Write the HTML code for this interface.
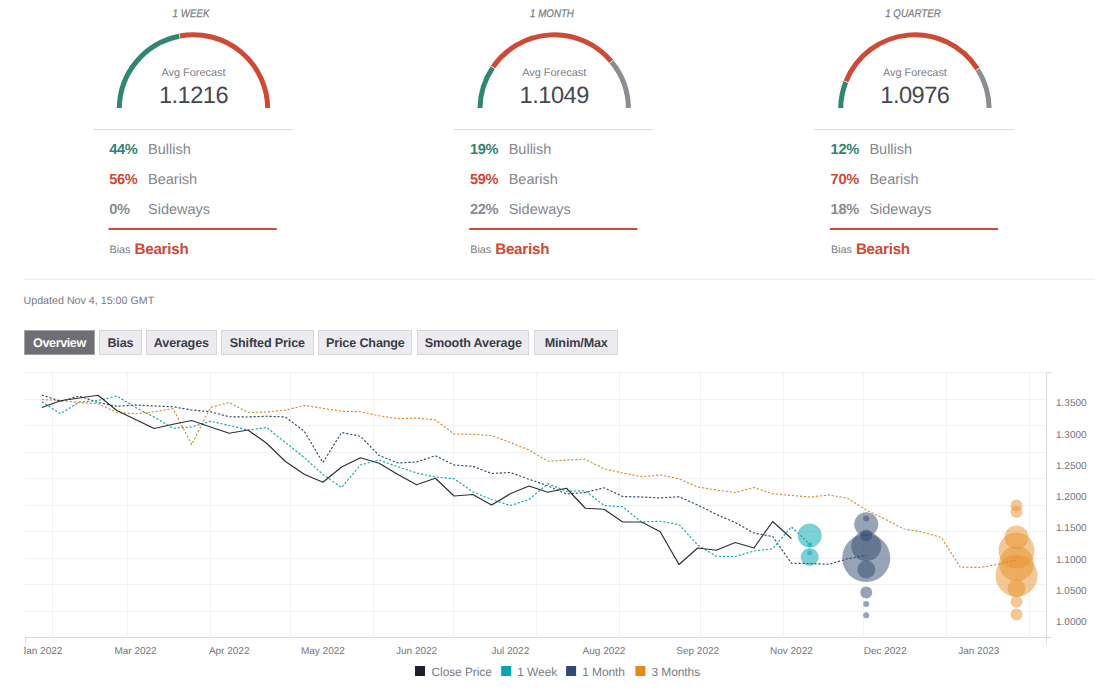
<!DOCTYPE html>
<html><head><meta charset="utf-8"><title>Forecast Poll</title>
<style>
html,body{margin:0;padding:0;background:#fff;}
body{width:1100px;height:688px;position:relative;overflow:hidden;font-family:"Liberation Sans",sans-serif;text-rendering:geometricPrecision;}
.t{position:absolute;white-space:nowrap;line-height:1;}
.c{transform:translateX(-50%);}
.title.c{transform:translateX(-50%) scaleX(0.885);}
.title{font-size:11px;font-style:italic;color:#7b7d86;top:8.9px;-webkit-text-stroke:0.25px #7b7d86;}
.avg{font-size:10.9px;color:#7b7d86;top:68px;}
.num{font-size:23.6px;letter-spacing:-0.5px;color:#454754;top:85.2px;}
.pct{font-size:14.6px;font-weight:bold;letter-spacing:-0.3px;}
.lab{font-size:14.5px;color:#85878f;}
.g{color:#338573}.r{color:#cf4a35}.s{color:#8c8d92}
.bias{font-size:10.8px;color:#7b7d86;top:245px;}
.biasv{font-size:15.2px;letter-spacing:-0.25px;font-weight:bold;color:#cf4a35;top:241.7px;}
.upd{font-size:10.7px;color:#787a82;left:23.5px;top:295.8px;}
.tab{position:absolute;top:330px;height:25px;box-sizing:border-box;border:1px solid #d6d6dc;background:#ececf0;color:#3a3c49;font-size:12.6px;letter-spacing:-0.15px;font-weight:bold;text-align:center;line-height:24.2px;white-space:nowrap;}
.tab.on{background:#6e6e74;border-color:#a2a2a8;color:#fff;letter-spacing:-0.4px;}
.yl{font-size:10px;color:#73757d;left:1056px;}
.xl{font-size:10px;color:#73757d;top:647.3px;}
.lg{font-size:12px;color:#7b7d86;top:666px;letter-spacing:-0.1px;}
</style></head><body>

<svg width="1100" height="688" viewBox="0 0 1100 688" style="position:absolute;left:0;top:0">
<defs><clipPath id="gc"><rect x="0" y="0" width="1100" height="108"/></clipPath></defs>
<path d="M119.30,109.00 A74.2,74.2 0 0 1 179.28,36.18" fill="none" stroke="#338573" stroke-width="5" clip-path="url(#gc)"/>
<path d="M179.91,36.05 A74.2,74.2 0 0 1 267.70,109.00" fill="none" stroke="#cf4a35" stroke-width="5" clip-path="url(#gc)"/>
<path d="M480.00,109.00 A74.2,74.2 0 0 1 492.65,67.56" fill="none" stroke="#338573" stroke-width="5" clip-path="url(#gc)"/>
<path d="M493.01,67.03 A74.2,74.2 0 0 1 611.17,61.45" fill="none" stroke="#cf4a35" stroke-width="5" clip-path="url(#gc)"/>
<path d="M611.58,61.95 A74.2,74.2 0 0 1 628.40,109.00" fill="none" stroke="#8c8d92" stroke-width="5" clip-path="url(#gc)"/>
<path d="M840.70,109.00 A74.2,74.2 0 0 1 845.79,81.99" fill="none" stroke="#338573" stroke-width="5" clip-path="url(#gc)"/>
<path d="M846.03,81.38 A74.2,74.2 0 0 1 977.38,68.97" fill="none" stroke="#cf4a35" stroke-width="5" clip-path="url(#gc)"/>
<path d="M977.72,69.52 A74.2,74.2 0 0 1 989.10,109.00" fill="none" stroke="#8c8d92" stroke-width="5" clip-path="url(#gc)"/>
<rect x="93.0" y="129" width="200" height="1" fill="#dcdcdc"/>
<rect x="108.5" y="228" width="168.2" height="2" fill="#cf4a35"/>
<rect x="453.7" y="129" width="200" height="1" fill="#dcdcdc"/>
<rect x="469.2" y="228" width="168.2" height="2" fill="#cf4a35"/>
<rect x="814.4" y="129" width="200" height="1" fill="#dcdcdc"/>
<rect x="829.9" y="228" width="168.2" height="2" fill="#cf4a35"/>
<rect x="24" y="278.7" width="1071" height="1" fill="#e6e6e6"/>
<rect x="25" y="372" width="1021" height="1" fill="#f1f1f6"/>
<rect x="25" y="399" width="1021" height="1" fill="#f1f1f6"/>
<rect x="25" y="425" width="1021" height="1" fill="#f1f1f6"/>
<rect x="25" y="452" width="1021" height="1" fill="#f1f1f6"/>
<rect x="25" y="478" width="1021" height="1" fill="#f1f1f6"/>
<rect x="25" y="505" width="1021" height="1" fill="#f1f1f6"/>
<rect x="25" y="531" width="1021" height="1" fill="#f1f1f6"/>
<rect x="25" y="558" width="1021" height="1" fill="#f1f1f6"/>
<rect x="25" y="584" width="1021" height="1" fill="#f1f1f6"/>
<rect x="25" y="611" width="1021" height="1" fill="#f1f1f6"/>
<rect x="52" y="372" width="1" height="265" fill="#f1f1f6"/>
<rect x="127" y="372" width="1" height="265" fill="#f1f1f6"/>
<rect x="210" y="372" width="1" height="265" fill="#f1f1f6"/>
<rect x="290" y="372" width="1" height="265" fill="#f1f1f6"/>
<rect x="373" y="372" width="1" height="265" fill="#f1f1f6"/>
<rect x="453" y="372" width="1" height="265" fill="#f1f1f6"/>
<rect x="536" y="372" width="1" height="265" fill="#f1f1f6"/>
<rect x="619" y="372" width="1" height="265" fill="#f1f1f6"/>
<rect x="700" y="372" width="1" height="265" fill="#f1f1f6"/>
<rect x="783" y="372" width="1" height="265" fill="#f1f1f6"/>
<rect x="863" y="372" width="1" height="265" fill="#f1f1f6"/>
<rect x="946" y="372" width="1" height="265" fill="#f1f1f6"/>
<rect x="1029" y="372" width="1" height="265" fill="#f1f1f6"/>
<rect x="25" y="637" width="1027.5" height="1" fill="#dbdce0"/>
<rect x="1046" y="372" width="1" height="271.5" fill="#dbdce0"/>
<rect x="1046" y="372" width="6.5" height="1" fill="#dbdce0"/>
<rect x="25" y="637" width="1" height="6.5" fill="#dbdce0"/>
<circle cx="809.7" cy="535.4" r="12" fill="#06a8b0" fill-opacity="0.53"/>
<circle cx="809.7" cy="557" r="9" fill="#06a8b0" fill-opacity="0.53"/>
<circle cx="809.7" cy="544.8" r="2.5" fill="#06a8b0" fill-opacity="0.53"/>
<circle cx="809.7" cy="552.8" r="2.5" fill="#06a8b0" fill-opacity="0.53"/>
<circle cx="866.25" cy="524.25" r="12" fill="#304a6e" fill-opacity="0.5"/>
<circle cx="866.25" cy="518.5" r="3" fill="#304a6e" fill-opacity="0.5"/>
<circle cx="866.25" cy="535.5" r="6" fill="#304a6e" fill-opacity="0.5"/>
<circle cx="866.25" cy="558" r="24" fill="#304a6e" fill-opacity="0.5"/>
<circle cx="866.25" cy="546.25" r="15" fill="#304a6e" fill-opacity="0.5"/>
<circle cx="866.25" cy="569.5" r="9" fill="#304a6e" fill-opacity="0.5"/>
<circle cx="866.25" cy="592.5" r="6" fill="#304a6e" fill-opacity="0.5"/>
<circle cx="866.25" cy="604" r="3" fill="#304a6e" fill-opacity="0.5"/>
<circle cx="866.25" cy="615.25" r="3" fill="#304a6e" fill-opacity="0.5"/>
<circle cx="1016.5" cy="505.5" r="6" fill="#e8912a" fill-opacity="0.5"/>
<circle cx="1016.5" cy="512" r="6" fill="#e8912a" fill-opacity="0.5"/>
<circle cx="1016.5" cy="537.5" r="12" fill="#e8912a" fill-opacity="0.5"/>
<circle cx="1016.5" cy="550.5" r="18" fill="#e8912a" fill-opacity="0.5"/>
<circle cx="1016.5" cy="563.75" r="17.5" fill="#e8912a" fill-opacity="0.5"/>
<circle cx="1016.5" cy="575.75" r="21" fill="#e8912a" fill-opacity="0.5"/>
<circle cx="1016.5" cy="588.25" r="9" fill="#e8912a" fill-opacity="0.5"/>
<circle cx="1016.5" cy="601.75" r="6" fill="#e8912a" fill-opacity="0.5"/>
<circle cx="1016.5" cy="614.5" r="6" fill="#e8912a" fill-opacity="0.5"/>
<polyline points="41.8,399.50 60.5,400.50 79.3,402.50 98.0,403.75 116.8,412.50 135.5,413.75 154.2,411.75 173.0,408.75 191.7,444.50 210.5,407.50 229.2,402.50 247.9,412.50 266.7,412.00 285.4,410.20 304.2,405.50 322.9,408.25 341.6,411.25 360.4,411.75 379.1,415.75 397.9,418.75 416.6,418.00 435.3,420.00 454.1,434.00 472.8,434.25 491.6,435.50 510.3,442.50 529.0,450.00 547.8,461.25 566.5,460.00 585.3,459.25 604.0,468.75 622.7,473.00 641.5,476.75 660.2,475.00 679.0,478.75 697.7,487.00 716.4,490.00 735.2,492.50 753.9,487.50 772.7,493.75 791.4,495.50 810.1,497.00 828.9,495.00 847.6,498.25 866.4,510.00 885.1,519.25 903.8,529.00 922.6,532.00 941.3,537.50 960.1,567.00 978.8,567.50 997.5,564.50 1016.3,560.00" fill="none" stroke="#e08a26" stroke-width="1.15" stroke-dasharray="2.2,1.8"/>
<polyline points="41.8,395.00 60.5,401.25 79.3,396.00 98.0,402.50 116.8,406.25 135.5,405.00 154.2,406.00 173.0,406.75 191.7,410.00 210.5,411.75 229.2,416.75 247.9,417.00 266.7,416.25 285.4,417.00 304.2,431.25 322.9,462.50 341.6,432.50 360.4,436.25 379.1,455.50 397.9,463.00 416.6,462.00 435.3,455.75 454.1,465.00 472.8,466.25 491.6,473.50 510.3,472.50 529.0,479.25 547.8,485.75 566.5,494.00 585.3,492.50 604.0,487.75 622.7,496.50 641.5,497.00 660.2,498.00 679.0,496.75 697.7,505.00 716.4,514.50 735.2,522.50 753.9,533.00 772.7,536.50 791.4,563.25 810.1,563.50 828.9,564.25 847.6,558.75 866.4,555.40" fill="none" stroke="#304a6e" stroke-width="1.15" stroke-dasharray="2.2,1.8"/>
<polyline points="41.8,401.75 60.5,413.75 79.3,402.00 98.0,400.50 116.8,396.00 135.5,407.50 154.2,417.00 173.0,428.25 191.7,427.00 210.5,421.25 229.2,425.50 247.9,430.00 266.7,427.50 285.4,442.50 304.2,457.50 322.9,474.50 341.6,487.50 360.4,465.00 379.1,460.00 397.9,466.75 416.6,473.00 435.3,477.00 454.1,478.75 472.8,491.75 491.6,499.50 510.3,505.50 529.0,499.50 547.8,483.75 566.5,491.25 585.3,490.75 604.0,505.50 622.7,506.75 641.5,522.00 660.2,521.25 679.0,524.50 697.7,545.00 716.4,556.25 735.2,556.50 753.9,551.00 772.7,548.75 791.4,526.75 810.1,544.70" fill="none" stroke="#10a8af" stroke-width="1.15" stroke-dasharray="2.2,1.8"/>
<polyline points="41.8,407.50 60.5,400.75 79.3,398.00 98.0,395.25 116.8,410.50 135.5,419.50 154.2,428.50 173.0,424.25 191.7,420.50 210.5,427.00 229.2,433.25 247.9,430.00 266.7,443.25 285.4,461.50 304.2,474.25 322.9,482.25 341.6,467.00 360.4,457.75 379.1,463.25 397.9,474.50 416.6,484.75 435.3,478.25 454.1,496.00 472.8,494.50 491.6,505.00 510.3,493.75 529.0,486.00 547.8,492.25 566.5,488.25 585.3,508.25 604.0,509.25 622.7,522.00 641.5,522.00 660.2,531.75 679.0,564.50 697.7,548.00 716.4,550.25 735.2,542.50 753.9,548.00 772.7,521.50 791.4,538.50" fill="none" stroke="#2f3038" stroke-width="1.2" stroke-linejoin="round"/>
<rect x="415" y="666" width="10" height="10" fill="#1d1f2b"/>
<rect x="501.2" y="666" width="10" height="10" fill="#03a7ad"/>
<rect x="566.1" y="666" width="10" height="10" fill="#2e4a72"/>
<rect x="635.4" y="666" width="10" height="10" fill="#e8871a"/>
</svg>
<div class="t c title" style="left:191.3px">1 WEEK</div>
<div class="t c avg" style="left:193.5px">Avg Forecast</div>
<div class="t c num" style="left:193.5px">1.1216</div>
<div class="t pct g" style="left:109.2px;top:142.9px">44%</div>
<div class="t lab" style="left:148.0px;top:143.3px">Bullish</div>
<div class="t pct r" style="left:109.2px;top:172.9px">56%</div>
<div class="t lab" style="left:148.0px;top:173.3px">Bearish</div>
<div class="t pct s" style="left:109.2px;top:202.9px">0%</div>
<div class="t lab" style="left:148.0px;top:203.3px">Sideways</div>
<div class="t bias" style="left:109.5px">Bias</div>
<div class="t biasv" style="left:134.5px">Bearish</div>
<div class="t c title" style="left:552.0px">1 MONTH</div>
<div class="t c avg" style="left:554.2px">Avg Forecast</div>
<div class="t c num" style="left:554.2px">1.1049</div>
<div class="t pct g" style="left:469.90000000000003px;top:142.9px">19%</div>
<div class="t lab" style="left:508.70000000000005px;top:143.3px">Bullish</div>
<div class="t pct r" style="left:469.90000000000003px;top:172.9px">59%</div>
<div class="t lab" style="left:508.70000000000005px;top:173.3px">Bearish</div>
<div class="t pct s" style="left:469.90000000000003px;top:202.9px">22%</div>
<div class="t lab" style="left:508.70000000000005px;top:203.3px">Sideways</div>
<div class="t bias" style="left:470.20000000000005px">Bias</div>
<div class="t biasv" style="left:495.20000000000005px">Bearish</div>
<div class="t c title" style="left:912.6999999999999px">1 QUARTER</div>
<div class="t c avg" style="left:914.9px">Avg Forecast</div>
<div class="t c num" style="left:914.9px">1.0976</div>
<div class="t pct g" style="left:830.6px;top:142.9px">12%</div>
<div class="t lab" style="left:869.4px;top:143.3px">Bullish</div>
<div class="t pct r" style="left:830.6px;top:172.9px">70%</div>
<div class="t lab" style="left:869.4px;top:173.3px">Bearish</div>
<div class="t pct s" style="left:830.6px;top:202.9px">18%</div>
<div class="t lab" style="left:869.4px;top:203.3px">Sideways</div>
<div class="t bias" style="left:830.9px">Bias</div>
<div class="t biasv" style="left:855.9px">Bearish</div>
<div class="t upd">Updated Nov 4, 15:00 GMT</div>
<div class="tab on" style="left:24.1px;width:70.7px">Overview</div>
<div class="tab" style="left:99.2px;width:42.5px">Bias</div>
<div class="tab" style="left:146px;width:70.7px">Averages</div>
<div class="tab" style="left:221.1px;width:92.5px">Shifted Price</div>
<div class="tab" style="left:318.2px;width:94.3px">Price Change</div>
<div class="tab" style="left:417.2px;width:112.2px">Smooth Average</div>
<div class="tab" style="left:534.3px;width:83.8px">Minim/Max</div>
<div class="t yl" style="top:398.6px">1.3500</div>
<div class="t yl" style="top:430.6px">1.3000</div>
<div class="t yl" style="top:461.6px">1.2500</div>
<div class="t yl" style="top:492.6px">1.2000</div>
<div class="t yl" style="top:523.6px">1.1500</div>
<div class="t yl" style="top:555.6px">1.1000</div>
<div class="t yl" style="top:586.6px">1.0500</div>
<div class="t yl" style="top:617.6px">1.0000</div>
<div class="t c xl" style="left:41.8px">Jan 2022</div>
<div class="t c xl" style="left:135.5px">Mar 2022</div>
<div class="t c xl" style="left:229.2px">Apr 2022</div>
<div class="t c xl" style="left:322.9px">May 2022</div>
<div class="t c xl" style="left:416.6px">Jun 2022</div>
<div class="t c xl" style="left:510.3px">Jul 2022</div>
<div class="t c xl" style="left:604.0px">Aug 2022</div>
<div class="t c xl" style="left:697.7px">Sep 2022</div>
<div class="t c xl" style="left:791.4px">Nov 2022</div>
<div class="t c xl" style="left:885.1px">Dec 2022</div>
<div class="t c xl" style="left:978.8px">Jan 2023</div>
<div class="t lg" style="left:431.5px">Close Price</div>
<div class="t lg" style="left:517.3px">1 Week</div>
<div class="t lg" style="left:582.2px">1 Month</div>
<div class="t lg" style="left:651.5px">3 Months</div>
<div style="position:absolute;left:0;top:642px;width:24.3px;height:16px;background:#fff"></div>
</body></html>
